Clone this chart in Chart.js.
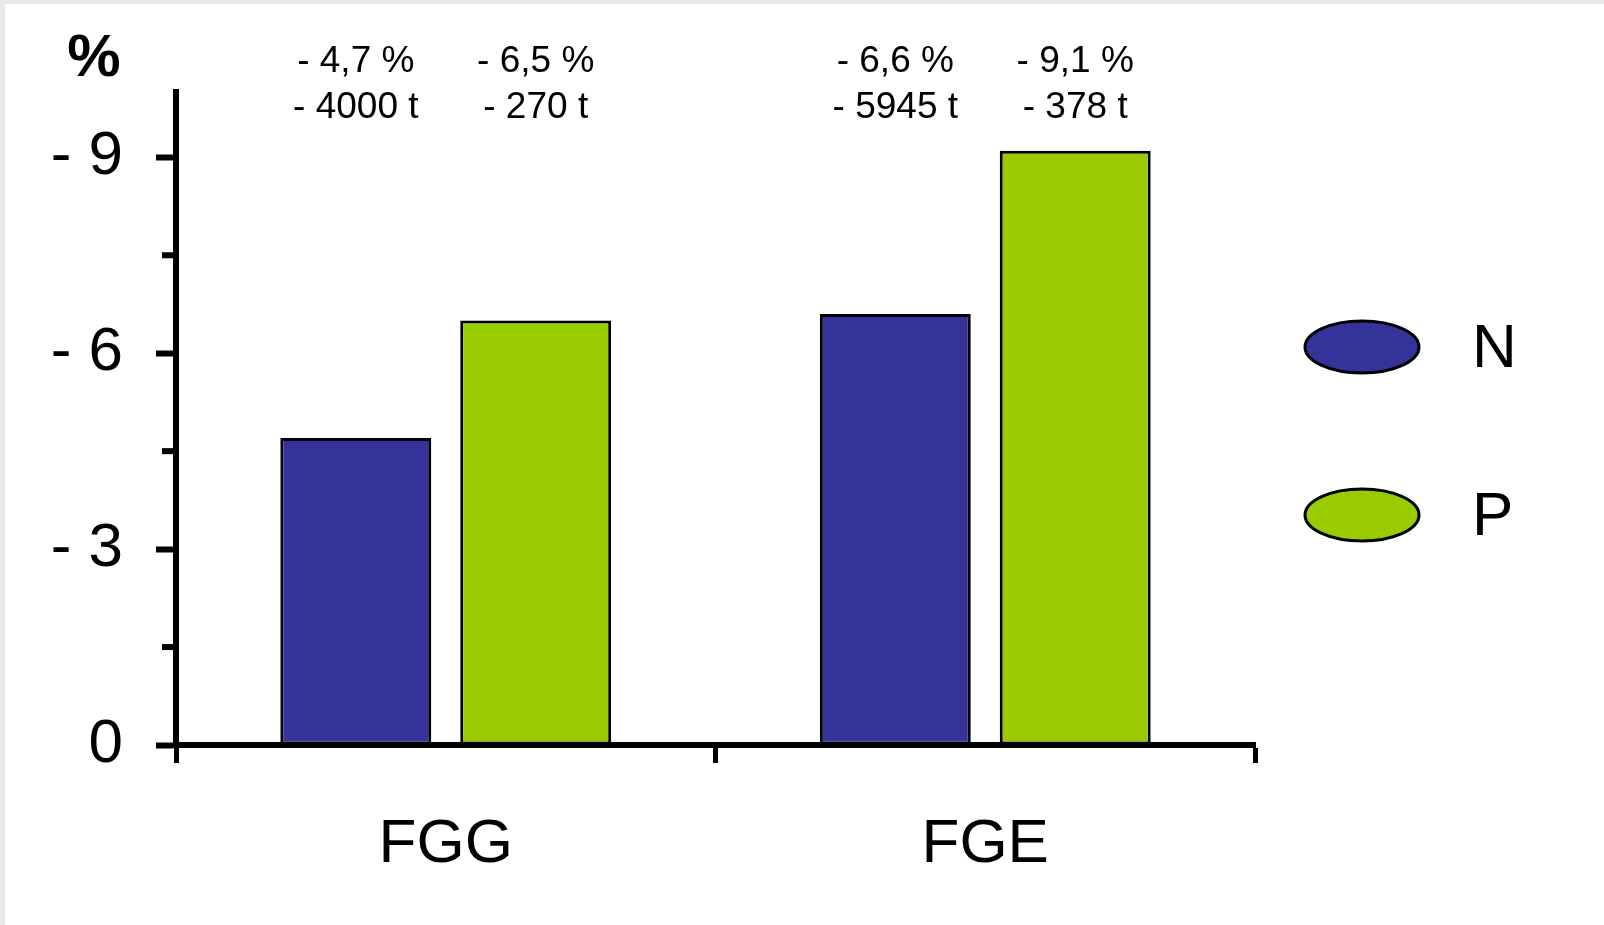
<!DOCTYPE html>
<html>
<head>
<meta charset="utf-8">
<script src="https://cdn.jsdelivr.net/npm/chart.js@4"></script>
<style>
  html, body { margin: 0; padding: 0; background: #ffffff; }
  #c { display: block; }
</style>
</head>
<body>
<canvas id="c" width="1604" height="925"></canvas>
<script>
// ---- data ----
const categories = ['FGG', 'FGE'];
const seriesNames = ['N', 'P'];
const nValues = [-4.7, -6.6];      // % change, N
const pValues = [-6.5, -9.1];      // % change, P
const nTonnes = [-4000, -5945];    // t, N
const pTonnes = [-270, -378];      // t, P
const yTicks = [0, -1.5, -3, -4.5, -6, -7.5, -9];
const yUnit = '%';

const colN = '#333399';
const colP = '#99cc00';
const FONT = '"Liberation Sans", Arial, sans-serif';

const tonnes = [nTonnes, pTonnes];

function fmtPct(v) { return '- ' + Math.abs(v).toFixed(1).replace('.', ',') + ' %'; }
function fmtT(v) { return '- ' + Math.abs(v) + ' t'; }

const bgPlugin = {
  id: 'bg',
  beforeDraw(chart) {
    const ctx = chart.ctx;
    ctx.save();
    ctx.fillStyle = '#e8e8e8';
    ctx.fillRect(0, 0, chart.width, chart.height);
    ctx.fillStyle = '#ffffff';
    ctx.fillRect(5, 4, chart.width - 5, chart.height - 4);
    ctx.restore();
  }
};

const extrasPlugin = {
  id: 'extras',
  afterDraw(chart) {
    const ctx = chart.ctx;
    const y = chart.scales.y;
    ctx.save();
    // minor ticks
    ctx.strokeStyle = '#000';
    ctx.lineWidth = 6;
    y.ticks.forEach(t => {
      if (t.value % 3 !== 0) {
        const py = y.getPixelForValue(t.value);
        ctx.beginPath();
        ctx.moveTo(y.right - 3 - 11, py);
        ctx.lineTo(y.right - 3, py);
        ctx.stroke();
      }
    });
    // unit label
    ctx.fillStyle = '#000';
    ctx.font = 'bold 60px ' + FONT;
    ctx.textAlign = 'center';
    ctx.textBaseline = 'middle';
    ctx.fillText(yUnit, 94, 59);
    // value annotations above bars
    ctx.font = '37px ' + FONT;
    chart.data.datasets.forEach((ds, i) => {
      const meta = chart.getDatasetMeta(i);
      meta.data.forEach((el, j) => {
        ctx.fillText(fmtPct(ds.data[j]), el.x, 62);
        ctx.fillText(fmtT(tonnes[i][j]), el.x, 108);
      });
    });
    // legend
    const legendY = [347, 515];
    chart.data.datasets.forEach((ds, i) => {
      ctx.beginPath();
      ctx.ellipse(1362, legendY[i], 57, 26, 0, 0, Math.PI * 2);
      ctx.fillStyle = ds.backgroundColor;
      ctx.fill();
      ctx.lineWidth = 3;
      ctx.strokeStyle = '#000';
      ctx.stroke();
      ctx.fillStyle = '#000';
      ctx.font = '62px ' + FONT;
      ctx.textAlign = 'left';
      ctx.textBaseline = 'middle';
      ctx.fillText(ds.label, 1472, legendY[i] + 3);
    });
    ctx.restore();
  }
};

new Chart(document.getElementById('c'), {
  type: 'bar',
  data: {
    labels: categories,
    datasets: [
      { label: seriesNames[0], data: nValues, backgroundColor: colN, borderColor: '#000', borderWidth: 3, borderSkipped: false },
      { label: seriesNames[1], data: pValues, backgroundColor: colP, borderColor: '#000', borderWidth: 3, borderSkipped: false }
    ]
  },
  options: {
    responsive: false,
    animation: false,
    events: [],
    barPercentage: 0.839,
    categoryPercentage: 0.667,
    layout: { padding: { left: 0, top: 92, right: 349, bottom: 0 } },
    plugins: { legend: { display: false }, tooltip: { enabled: false } },
    scales: {
      x: {
        offset: true,
        afterFit(s) { s.height = 180; },
        border: { display: true, width: 6, color: '#000' },
        grid: { offset: true, drawOnChartArea: false, drawTicks: true, tickLength: 18, tickWidth: 5, tickColor: '#000' },
        ticks: { color: '#000', padding: 45, font: { family: FONT, size: 62 } }
      },
      y: {
        reverse: true,
        min: -10,
        max: 0,
        afterFit(s) { s.width = 176; },
        afterBuildTicks(s) { s.ticks = yTicks.map(v => ({ value: v })); },
        border: { display: true, width: 6, color: '#000' },
        grid: {
          drawOnChartArea: false, drawTicks: true, tickLength: 20, tickWidth: 6,
          tickColor: ctx => (ctx.tick && ctx.tick.value % 3 === 0) ? '#000' : 'rgba(0,0,0,0)'
        },
        ticks: {
          color: '#000', padding: 33, font: { family: FONT, size: 62 },
          callback: v => (v % 3 !== 0) ? '' : (v === 0 ? '0' : '- ' + Math.abs(v))
        }
      }
    }
  },
  plugins: [bgPlugin, extrasPlugin]
});
</script>
</body>
</html>
